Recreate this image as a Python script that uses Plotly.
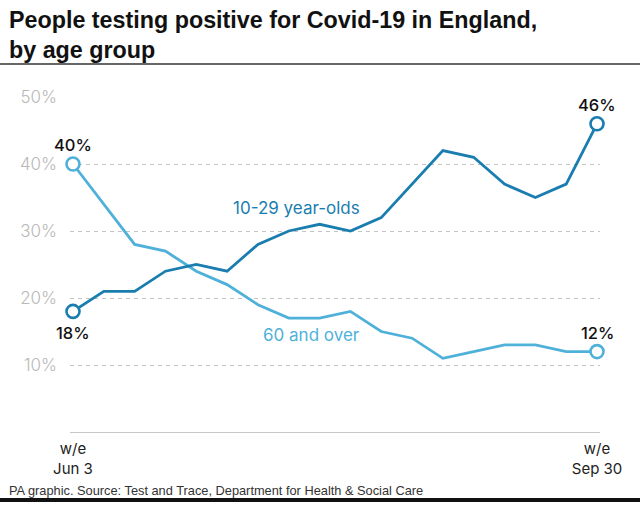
import plotly.graph_objects as go

weeks = list(range(18))
tick_labels = ["w/e<br>Jun 3", "w/e<br>Sep 30"]
young = [18, 21, 21, 24, 25, 24, 28, 30, 31, 30, 32, 37, 42, 41, 37, 35, 37, 46]
old = [40, 34, 28, 27, 24, 22, 19, 17, 17, 18, 15, 14, 11, 12, 13, 13, 12, 12]

DARK = "#1a7db0"
LIGHT = "#4fb1da"
FONT = "Inter"
TFONT = "Liberation Sans"

W, H = 640, 507
L, R, T, B = 70, 40, 97, 75
PW, PH = W - L - R, H - T - B

def px(x):
    return (x - L) / PW

def py(y):
    return (H - B - y) / PH

fig = go.Figure()
for vals, col in [(old, LIGHT), (young, DARK)]:
    fig.add_trace(go.Scatter(x=weeks, y=vals, mode="lines", line=dict(color=col, width=2.8),
                             hoverinfo="skip", cliponaxis=False))
    fig.add_trace(go.Scatter(x=[weeks[0], weeks[-1]], y=[vals[0], vals[-1]], mode="markers",
                             marker=dict(size=13, color="white", line=dict(color=col, width=2.6)),
                             hoverinfo="skip", cliponaxis=False))

ann = []
def lab(x, y, text, yshift):
    ann.append(dict(x=x, y=y, xref="x", yref="y", text=text, showarrow=False, yshift=yshift,
                    font=dict(family=FONT, size=16.5, color="#111", weight=500)))
lab(weeks[0], old[0], f"{old[0]}%", 19)
lab(weeks[0], young[0], f"{young[0]}%", -22)
lab(weeks[-1], young[-1], f"{young[-1]}%", 19)
lab(weeks[-1], old[-1], f"{old[-1]}%", 19)

ann.append(dict(x=9.38, y=33.4, xref="x", yref="y", text="10-29 year-olds", showarrow=False,
                xanchor="right", font=dict(family=FONT, size=17, color=DARK)))
ann.append(dict(x=9.38, y=14.5, xref="x", yref="y", text="60 and over", showarrow=False,
                xanchor="right", font=dict(family=FONT, size=17, color=LIGHT)))

ann.append(dict(x=px(7), y=py(5), xref="paper", yref="paper", xanchor="left", yanchor="top",
                text="<b>People testing positive for Covid-19 in England,<br>by age group</b>",
                showarrow=False, align="left",
                font=dict(family=TFONT, size=23.3, color="#111")))
ann.append(dict(x=px(7), y=py(490), xref="paper", yref="paper", xanchor="left", yanchor="middle",
                text="PA graphic. Source: Test and Trace, Department for Health & Social Care",
                showarrow=False, font=dict(family=TFONT, size=12.8, color="#333")))

shapes = [
    dict(type="line", xref="paper", yref="paper", x0=px(0), x1=px(W), y0=py(64), y1=py(64),
         line=dict(color="#333", width=1.5)),
    dict(type="line", xref="paper", yref="paper", x0=px(0), x1=px(W), y0=py(500), y1=py(500),
         line=dict(color="#111", width=4)),
]

fig.update_layout(
    width=W, height=H,
    margin=dict(l=L, r=R, t=T, b=B),
    plot_bgcolor="white", paper_bgcolor="white",
    showlegend=False,
    annotations=ann, shapes=shapes,
    xaxis=dict(range=[-0.097, 17.097], tickvals=[weeks[0], weeks[-1]], ticktext=tick_labels,
               showgrid=False, zeroline=False, showline=True, linecolor="#c8c8c8", linewidth=1.2,
               ticks="", ticklabelstandoff=3,
               tickfont=dict(family=FONT, size=15, color="#222")),
    yaxis=dict(range=[0, 50], tickvals=[10, 20, 30, 40, 50], ticktext=["10%", "20%", "30%", "40%", "50%"],
               showgrid=True, gridcolor="#c4c4c4", griddash="4px,4px", gridwidth=1,
               zeroline=False, showline=False, ticks="",
               ticklabelstandoff=12,
               tickfont=dict(family=FONT, size=17, color="#b8b8b8", weight=300)),
)
fig.write_html("out.html", config={"displayModeBar": False},
               post_script="document.body.style.margin='0';")
